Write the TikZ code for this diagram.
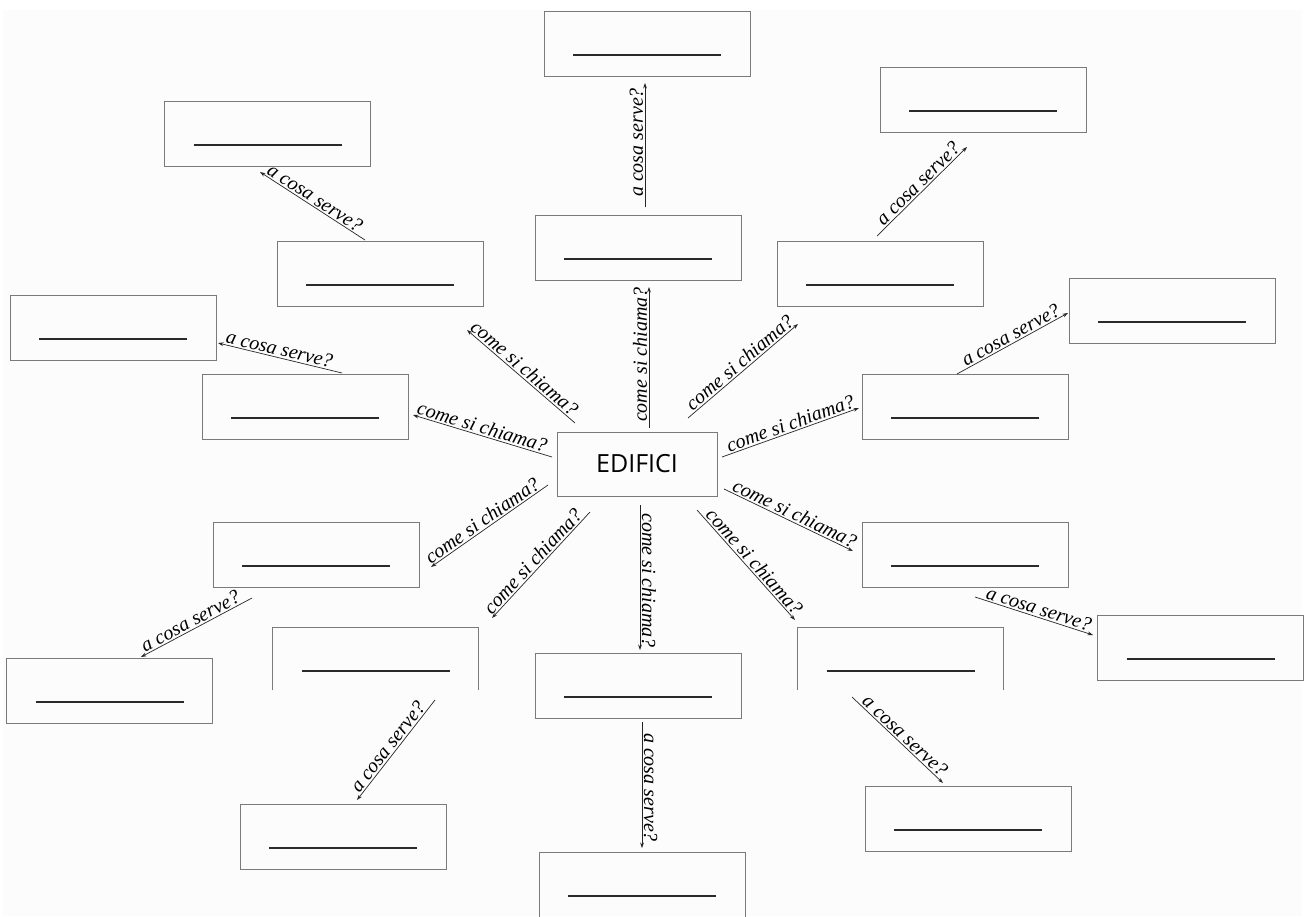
\documentclass[tikz,border=0pt]{standalone}
\usepackage{fontspec}
\newfontfamily\edfont{Open Sans}
\newfontfamily\lblfont{Liberation Serif}
\usetikzlibrary{arrows.meta}
\definecolor{bggray}{HTML}{FCFCFC}
\definecolor{boxgray}{HTML}{7A7A7A}
\definecolor{linedark}{HTML}{2A2A2A}
\begin{document}
\begin{tikzpicture}[x=1pt,y=-1pt,
  blankbox/.style={draw=boxgray, line width=0.9pt, minimum width=206pt, minimum height=65pt, inner sep=0pt, outer sep=0pt},
  openbox/.style={minimum width=206pt, minimum height=63pt, inner sep=0pt, outer sep=0pt},
  blankline/.style={draw=linedark, line width=1.5pt},
  conn/.style={draw=black!85, line width=0.7pt, -{Stealth[length=5.5pt,width=3.8pt]}},
  lbl/.style={sloped, above, pos=0.52, inner sep=1.5pt, font=\lblfont\fontsize{20}{22}\selectfont\itshape}]
\useasboundingbox (0,0) rectangle (1305,916);
\fill[bggray] (3,10) rectangle (1302,916);
% closed boxes
\foreach \n/\x/\y in {b1/647/43.5, b2/983/99.5, b3/267.5/133.5, b4/638/247.5, b5/380/273.5,
  b6/880/273.5, b7/1172/310.5, b8/113/327.5, b9/305/406.5, b10/965/406.5,
  b12/316/554.5, b13/965/554.5, b14/1200.5/647.5, b17/638/685.5, b18/109.5/690.5,
  b19/968/818.5, b20/343/836.5, b21/642/884.5} {
  \node[blankbox] (\n) at (\x,\y) {};
  \draw[blankline] (\n.center) ++(-74,11.5) -- ++(148,0);
}
% boxes without bottom edge
\foreach \n/\x/\y in {b15/375.5/658.5, b16/900.5/658.5} {
  \node[openbox] (\n) at (\x,\y) {};
  \draw[draw=boxgray, line width=0.9pt] (\n.south west) -- (\n.north west) -- (\n.north east) -- (\n.south east);
  \draw[blankline] (\n.center) ++(-74,12.5) -- ++(148,0);
}
% centre
\node[draw=boxgray, line width=0.9pt, minimum width=160pt, minimum height=64pt, inner sep=0pt,
  font=\edfont\fontsize{25}{28}\selectfont] (c) at (637,464) {EDIFICI};
% connector end points
\foreach \n/\x/\y in {
  c1t/649/428, c1h/649/287,
  c2t/575/423, c2h/467/330,
  c3t/552/457, c3h/413/415,
  c4t/688/418, c4h/798/324,
  c5t/722/457, c5h/859/408,
  c6t/724/489, c6h/853/551,
  c7t/697/510, c7h/795/620,
  c8t/640/505, c8h/640/650,
  c9t/548/485, c9h/431/567,
  c10t/590/512, c10h/492/618,
  a1t/645/207, a1h/645/83,
  a2t/877/236, a2h/967/147,
  a3t/365/240, a3h/260/172,
  a4t/342/373, a4h/218/343,
  a5t/957/374, a5h/1068/313,
  a6t/252/598, a6h/141/657,
  a7t/435/700, a7h/357/800,
  a8t/642/722, a8h/642/848,
  a9t/852/697, a9h/943/783,
  a10t/975/597, a10h/1093/635} {
  \coordinate (\n) at (\x,\y);
}
\foreach \k in {c1,c2,c3,c4,c5,c6,c7,c8,c9,c10} {
  \draw[conn] (\k t) -- node[lbl] {come si chiama?} (\k h);
}
\foreach \k in {a1,a2,a3,a4,a5,a6,a7,a8,a9,a10} {
  \draw[conn] (\k t) -- node[lbl] {a cosa serve?} (\k h);
}
\end{tikzpicture}
\end{document}
